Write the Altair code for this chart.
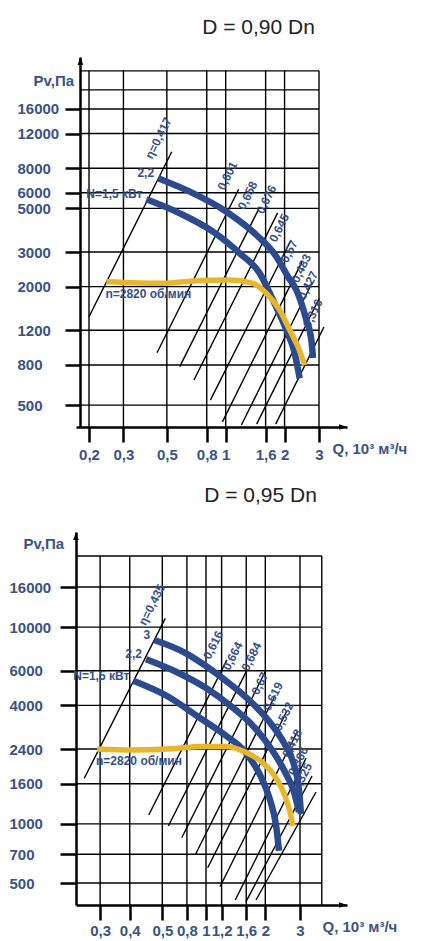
import json
import altair as alt
import pandas as pd

FONT = "Liberation Sans, Arial, sans-serif"
TITLE_FONT = "Liberation Sans, Arial, sans-serif"
TXT_BLUE = "#34508a"
AXIS_BLUE = "#3b5284"
CURVE_BLUE = "#2c4a8e"
YELLOW = "#e8b62d"

# ---------------- Panel 1: D = 0,90 Dn ----------------
p1_title = "D = 0,90 Dn"
p1_q_domain = [0.1716, 4.171]
p1_p_domain = [387, 29400]
p1_q_axis = 0.1808
p1_grid_q = [0.2, 0.3, 0.5, 0.8, 1, 1.6, 2, 3]
p1_grid_q_top = 25000
p1_grid_p = [500, 800, 1200, 2000, 3000, 5000, 6000, 8000, 12000, 16000, 20000, 25000]
p1_grid_p_right = 3
p1_tick_q = [0.2, 0.3, 0.5, 0.8, 1, 1.6, 2, 3]
p1_tick_q_labels = ["0,2", "0,3", "0,5", "0,8", "1", "1,6", "2", "3"]
p1_tick_p = [500, 800, 1200, 2000, 3000, 5000, 6000, 8000, 12000, 16000]

p1_eta_labels = ["η=0,417", "0,601", "0,658", "0,676", "0,645", "0,57", "0,483", "0,427", "0,316"]
p1_eta_q_lo = [0.2, 0.4455, 0.582, 0.688, 0.835, 0.962, 1.203, 1.44, 1.801]
p1_eta_p_lo = [1406, 923, 784, 671, 530, 411, 396, 400, 400]
p1_eta_q_hi = [0.53, 1.165, 1.475, 1.8435, 2.14, 2.453, 2.777, 3.0, 3.18]
p1_eta_p_hi = [9706, 6251, 4963, 4741, 3400, 2672, 2113, 1736, 1248]

p1_curve_names = ["2,2", "N=1,5 кВт"]
p1_curve_q = [
    [0.451, 0.655, 1.008, 1.436, 1.816, 2.083, 2.298, 2.586, 2.742, 2.795],
    [0.393, 0.582, 0.861, 1.179, 1.492, 1.745, 2.043, 2.253, 2.389],
]
p1_curve_p = [
    [7114, 6080, 4810, 3661, 2840, 2246, 1923, 1353, 1071, 867],
    [5560, 4719, 3805, 2954, 2339, 1711, 1204, 917, 684],
]
p1_yellow_q = [0.2455, 0.478, 0.708, 1.048, 1.379, 1.615, 1.888, 2.125, 2.342, 2.534]
p1_yellow_p = [2119, 2080, 2144, 2162, 2080, 1850, 1522, 1204, 990, 799]

# ---------------- Panel 2: D = 0,95 Dn ----------------
p2_title = "D = 0,95 Dn"
p2_q_domain = [0.2188, 5.196]
p2_p_domain = [386.6, 30470]
p2_q_axis = 0.2188
p2_grid_q = [0.29, 0.41, 0.6, 0.8, 1, 1.2, 1.6, 2, 3, 3.87]
p2_grid_q_top = 23000
p2_grid_p = [500, 700, 1000, 1600, 2400, 4000, 6000, 10000, 16000, 23000]
p2_grid_p_right = 3.87
p2_tick_q = [0.29, 0.41, 0.6, 0.8, 1, 1.2, 1.6, 2, 3]
p2_tick_q_labels = ["0,3", "0,4", "0,5", "0,8", "1", "1,2", "1,6", "2", "3"]
p2_tick_p = [500, 700, 1000, 1600, 2400, 4000, 6000, 10000, 16000]

p2_eta_labels = ["η=0,435", "0,616", "0,664", "0,684", "0,67", "0,619", "0,532", "0,418", "0,366", "0,325"]
p2_eta_q_lo = [0.241, 0.512, 0.644, 0.753, 0.885, 1.02, 1.178, 1.408, 1.596, 1.794]
p2_eta_p_lo = [1704, 1109, 975, 850, 700, 598, 479, 410, 402, 410]
p2_eta_q_hi = [0.621, 1.277, 1.607, 2.0, 2.246, 2.57, 2.915, 3.22, 3.452, 3.617]
p2_eta_p_hi = [11092, 6818, 5993, 5949, 4509, 3737, 2958, 2157, 1751, 1452]

p2_curve_names = ["3", "2,2", "N=1,5 кВт"]
p2_curve_q = [
    [0.546, 0.7915, 1.0, 1.324, 1.673, 2.064, 2.489, 2.797, 2.966, 3.035],
    [0.496, 0.704, 1.0, 1.355, 1.773, 2.163, 2.518, 2.797, 2.966],
    [0.4276, 0.634, 0.932, 1.249, 1.578, 1.88, 2.113, 2.266, 2.348],
]
p2_curve_p = [
    [8603, 7365, 6345, 5140, 4212, 3372, 2576, 1992, 1486, 1122],
    [6864, 5935, 4905, 3926, 3071, 2374, 1835, 1451, 1149],
    [5342, 4467, 3452, 2829, 2319, 1772, 1322, 986, 728],
]
p2_yellow_q = [0.2797, 0.426, 0.704, 0.932, 1.263, 1.578, 1.947, 2.266, 2.518, 2.67, 2.764]
p2_yellow_p = [2402, 2374, 2416, 2474, 2474, 2319, 2039, 1711, 1385, 1149, 975]

speed_label = "n=2820 об/мин"


def panel(title, title_dx, title_offset, q_dom, p_dom, q_axis, grid_q, grid_q_top, grid_p, grid_p_right,
          tick_q, tick_q_labels, tick_p, eta_labels, eta_q_lo, eta_p_lo, eta_q_hi, eta_p_hi,
          curve_names, curve_q, curve_p, yellow_q, yellow_p, width, height,
          y_offset, y_tick, y_label_pad, x_tick, x_label_pad, ytitle_xy, xtitle_xy, eta_dy):
    xs = alt.Scale(type="log", domain=q_dom, nice=False)
    ys = alt.Scale(type="log", domain=p_dom, nice=False)
    label_expr = "%s[indexof(%s, datum.value)]" % (json.dumps(tick_q_labels), json.dumps(tick_q))
    xaxis = alt.Axis(values=tick_q, labelExpr=label_expr, grid=False, tickSize=x_tick, tickWidth=2.5,
                     tickColor="black", domainColor="black", domainWidth=2.5,
                     labelFont=FONT, labelFontSize=15, labelFontWeight="bold", labelColor=AXIS_BLUE,
                     labelPadding=x_label_pad, labelOverlap=False, labelFlush=False, labelBound=False,
                     title="Q, 10³ м³/ч", titleX=xtitle_xy[0], titleY=xtitle_xy[1], titleAlign="left",
                     titleBaseline="middle", titleFont=FONT, titleFontSize=15, titleFontWeight="bold",
                     titleColor=AXIS_BLUE)
    yaxis = alt.Axis(values=tick_p, format="d", grid=False, tickSize=y_tick, tickWidth=2.5,
                     tickColor="black", domainColor="black", domainWidth=2.5, offset=y_offset,
                     labelFont=FONT, labelFontSize=15, labelFontWeight="bold", labelColor=AXIS_BLUE,
                     labelAlign="left", labelBaseline="middle", labelPadding=y_label_pad,
                     labelOverlap=False, labelFlush=False, labelBound=False,
                     title="Pv,Па", titleAngle=0, titleX=ytitle_xy[0], titleY=ytitle_xy[1], titleAlign="left",
                     titleBaseline="middle", titleFont=FONT, titleFontSize=15, titleFontWeight="bold",
                     titleColor=AXIS_BLUE)

    hgrid = pd.DataFrame({"p": grid_p, "q0": q_axis, "q1": grid_p_right})
    vgrid = pd.DataFrame({"q0": grid_q, "p": p_dom[0], "p1": grid_q_top})
    eta = pd.DataFrame({"lab": eta_labels, "q0": eta_q_lo, "p": eta_p_lo, "q1": eta_q_hi, "p1": eta_p_hi,
                        "first": [1] + [0] * (len(eta_labels) - 1)})
    rows = []
    for s, (name, qs, ps) in enumerate(zip(curve_names, curve_q, curve_p)):
        for o, (q, p) in enumerate(zip(qs, ps)):
            rows.append({"s": s, "o": o, "q0": q, "p": p, "name": name})
    curves = pd.DataFrame(rows)
    curve_lab = curves[curves["o"] == 0]
    yellow = pd.DataFrame({"q0": yellow_q, "p": yellow_p, "o": list(range(len(yellow_q)))})
    ylab = pd.DataFrame({"q0": [yellow_q[0]], "p": [yellow_p[0]], "lab": [speed_label]})
    arrows_y = pd.DataFrame({"q0": [q_axis], "p": [p_dom[1]]})
    arrows_x = pd.DataFrame({"q0": [q_dom[1]], "p": [p_dom[0]]})

    X = lambda f: alt.X(f, scale=xs)
    Y = lambda f: alt.Y(f, scale=ys)

    l_hgrid = alt.Chart(hgrid).mark_rule(color="black", strokeWidth=1.4).encode(
        x=alt.X("q0:Q", scale=xs, axis=xaxis), x2="q1:Q", y=alt.Y("p:Q", scale=ys, axis=yaxis))
    l_vgrid = alt.Chart(vgrid).mark_rule(color="black", strokeWidth=1.4).encode(
        x=X("q0:Q"), y=Y("p:Q"), y2="p1:Q")
    l_eta = alt.Chart(eta).mark_rule(color="black", strokeWidth=1.4).encode(
        x=X("q0:Q"), x2="q1:Q", y=Y("p:Q"), y2="p1:Q")
    txt = dict(font=FONT, fontSize=12, fontWeight="bold", color=TXT_BLUE)
    l_eta_t = alt.Chart(eta).transform_filter("datum.first == 0").mark_text(
        angle=296.6, align="left", baseline="bottom", dx=-8, dy=eta_dy, **txt).encode(
        x=X("q1:Q"), y=Y("p1:Q"), text="lab:N")
    l_eta_t0 = alt.Chart(eta).transform_filter("datum.first == 1").mark_text(
        angle=296.6, align="left", baseline="bottom", dx=-16, dy=-11, **txt).encode(
        x=X("q1:Q"), y=Y("p1:Q"), text="lab:N")
    l_curves = alt.Chart(curves).mark_line(color=CURVE_BLUE, strokeWidth=6.5, interpolate="monotone",
                                           strokeCap="butt").encode(
        x=X("q0:Q"), y=Y("p:Q"), detail="s:N", order="o:Q")
    l_yellow = alt.Chart(yellow).mark_line(color=YELLOW, strokeWidth=5.5, interpolate="monotone",
                                           strokeCap="butt").encode(
        x=X("q0:Q"), y=Y("p:Q"), order="o:Q")
    l_clab = alt.Chart(curve_lab).mark_text(align="right", baseline="alphabetic", dx=-4, dy=-1, **txt).encode(
        x=X("q0:Q"), y=Y("p:Q"), text="name:N")
    l_ylab = alt.Chart(ylab).mark_text(align="left", baseline="top", dx=-1, dy=7, **txt).encode(
        x=X("q0:Q"), y=Y("p:Q"), text="lab:N")
    l_ay = alt.Chart(arrows_y).mark_point(shape="M0,0L0.35,1L-0.35,1Z", size=256, filled=True,
                                          color="black", opacity=1).encode(x=X("q0:Q"), y=Y("p:Q"))
    l_ax = alt.Chart(arrows_x).mark_point(shape="M0,0L-1,-0.35L-1,0.35Z", size=256, filled=True,
                                          color="black", opacity=1).encode(x=X("q0:Q"), y=Y("p:Q"))

    return alt.layer(l_hgrid, l_vgrid, l_eta, l_eta_t, l_eta_t0, l_curves, l_yellow, l_clab, l_ylab,
                     l_ay, l_ax).properties(
        width=width, height=height,
        title=alt.TitleParams(title, font=TITLE_FONT, fontSize=21, fontWeight="normal", color="#222222",
                              anchor="middle", frame="group", dx=title_dx, offset=title_offset,
                              baseline="bottom"))


c1 = panel(p1_title, 47, -2, p1_q_domain, p1_p_domain, p1_q_axis, p1_grid_q, p1_grid_q_top, p1_grid_p,
           p1_grid_p_right, p1_tick_q, p1_tick_q_labels, p1_tick_p,
           p1_eta_labels, p1_eta_q_lo, p1_eta_p_lo, p1_eta_q_hi, p1_eta_p_hi,
           p1_curve_names, p1_curve_q, p1_curve_p, p1_yellow_q, p1_yellow_p, 271, 370,
           y_offset=-4, y_tick=15, y_label_pad=48, x_tick=15, x_label_pad=5,
           ytitle_xy=(-47, 23), xtitle_xy=(256, 21), eta_dy=-9)
c2 = panel(p2_title, 49, 5, p2_q_domain, p2_p_domain, p2_q_axis, p2_grid_q, p2_grid_q_top, p2_grid_p,
           p2_grid_p_right, p2_tick_q, p2_tick_q_labels, p2_tick_p,
           p2_eta_labels, p2_eta_q_lo, p2_eta_p_lo, p2_eta_q_hi, p2_eta_p_hi,
           p2_curve_names, p2_curve_q, p2_curve_p, p2_yellow_q, p2_yellow_p, 271, 373,
           y_offset=0, y_tick=16, y_label_pad=51, x_tick=15, x_label_pad=3,
           ytitle_xy=(-53, 11), xtitle_xy=(246, 21), eta_dy=-12)

chart = alt.vconcat(c1, c2, spacing=21).configure_view(stroke="transparent").properties(
    background="white", padding={"left": 0, "top": 8, "right": 5, "bottom": 5})
chart.save("out.html", embed_options={"renderer": "svg", "actions": False})
